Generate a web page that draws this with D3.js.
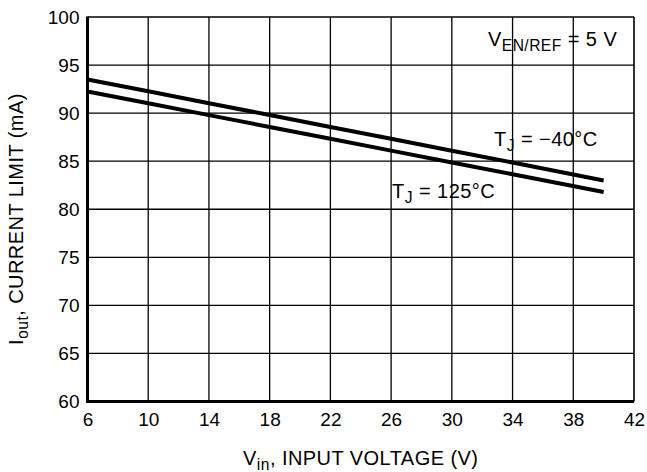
<!DOCTYPE html>
<html>
<head>
<meta charset="utf-8">
<script src="https://cdn.jsdelivr.net/npm/d3@7"></script>
<style>
  html, body { margin: 0; padding: 0; background: #fff; }
  svg { display: block; font-family: "Liberation Sans", Arial, sans-serif; }
</style>
</head>
<body>
<svg id="chart" width="647" height="472"></svg>
<script>
// Input voltage (V) and current limit (mA) for the two junction temperatures
const vin = [6, 10, 14, 18, 22, 26, 30, 34, 40];
const ioutMinus40 = [93.5, 92.27, 91.03, 89.8, 88.56, 87.33, 86.09, 84.86, 83.0];
const iout125 = [92.25, 91.02, 89.79, 88.56, 87.33, 86.1, 84.87, 83.64, 81.8];
const xTicks = [6, 10, 14, 18, 22, 26, 30, 34, 38, 42];
const yTicks = [60, 65, 70, 75, 80, 85, 90, 95, 100];

const svg = d3.select("#chart");
const plotL = 87.5, plotR = 634, plotT = 17, plotB = 401.5;
const fs = 19;     // tick labels
const fsText = 20; // titles and annotations

const x = d3.scaleLinear().domain([6, 42]).range([plotL, plotR]);
const y = d3.scaleLinear().domain([60, 100]).range([plotB, plotT]);

// grid
const grid = svg.append("g").attr("stroke", "#000").attr("stroke-width", 1.3);
grid.selectAll("line.v").data(xTicks.slice(1, -1)).join("line")
  .attr("x1", d => x(d)).attr("x2", d => x(d)).attr("y1", plotT).attr("y2", plotB);
grid.selectAll("line.h").data(yTicks.slice(1, -1)).join("line")
  .attr("y1", d => y(d)).attr("y2", d => y(d)).attr("x1", plotL).attr("x2", plotR);

// frame: thin top/right, heavy left/bottom
svg.append("line").attr("x1", plotL).attr("x2", plotR).attr("y1", plotT).attr("y2", plotT)
  .attr("stroke", "#000").attr("stroke-width", 1.6);
svg.append("line").attr("x1", plotR).attr("x2", plotR).attr("y1", plotT).attr("y2", plotB)
  .attr("stroke", "#000").attr("stroke-width", 1.6);

// axes via d3 axis generators (tick marks hidden, labels only)
const xAxis = svg.append("g").attr("transform", `translate(0,${plotB})`)
  .call(d3.axisBottom(x).tickValues(xTicks).tickSize(0).tickPadding(11).tickFormat(d3.format("d")));
const yAxis = svg.append("g").attr("transform", `translate(${plotL},0)`)
  .call(d3.axisLeft(y).tickValues(yTicks).tickSize(0).tickPadding(8).tickFormat(d3.format("d")));
[xAxis, yAxis].forEach(g => {
  g.select(".domain").remove();
  g.selectAll("text").attr("font-size", fs).attr("fill", "#000")
    .attr("font-family", '"Liberation Sans", Arial, sans-serif');
});

svg.append("line").attr("x1", plotL).attr("x2", plotL).attr("y1", plotT - 0.5).attr("y2", plotB + 1.5)
  .attr("stroke", "#000").attr("stroke-width", 3);
svg.append("line").attr("x1", plotL - 1.5).attr("x2", plotR).attr("y1", plotB).attr("y2", plotB)
  .attr("stroke", "#000").attr("stroke-width", 3);

// data curves
const line = d3.line().x(d => x(d[0])).y(d => y(d[1]));
[ioutMinus40, iout125].forEach(series => {
  svg.append("path").datum(vin.map((v, i) => [v, series[i]]))
    .attr("d", line).attr("fill", "none").attr("stroke", "#000").attr("stroke-width", 4);
});

// text with subscripts
function label(xp, yp, parts, anchor) {
  const t = svg.append("text").attr("x", xp).attr("y", yp)
    .attr("font-size", fsText).attr("letter-spacing", 0.45)
    .attr("text-anchor", anchor || "start").attr("fill", "#000");
  parts.forEach(p => {
    const s = t.append("tspan").text(p.t);
    if (p.sub) s.attr("font-size", fsText * 0.78).attr("dy", 5);
    if (p.up) s.attr("dy", -5);
  });
  return t;
}

label(488, 46, [{t: "V"}, {t: "EN/REF", sub: true}, {t: " = 5 V", up: true}]);
label(494, 146, [{t: "T"}, {t: "J", sub: true}, {t: " = \u221240\u00B0C", up: true}]);
label(392, 198, [{t: "T"}, {t: "J", sub: true}, {t: " = 125\u00B0C", up: true}]);

label(360.75, 465, [{t: "V"}, {t: "in", sub: true}, {t: ", INPUT VOLTAGE (V)", up: true}], "middle");

const yt = label(0, 0, [{t: "I"}, {t: "out", sub: true}, {t: ", CURRENT LIMIT (mA)", up: true}], "middle");
yt.attr("transform", "translate(23,219) rotate(-90)");
</script>
</body>
</html>
